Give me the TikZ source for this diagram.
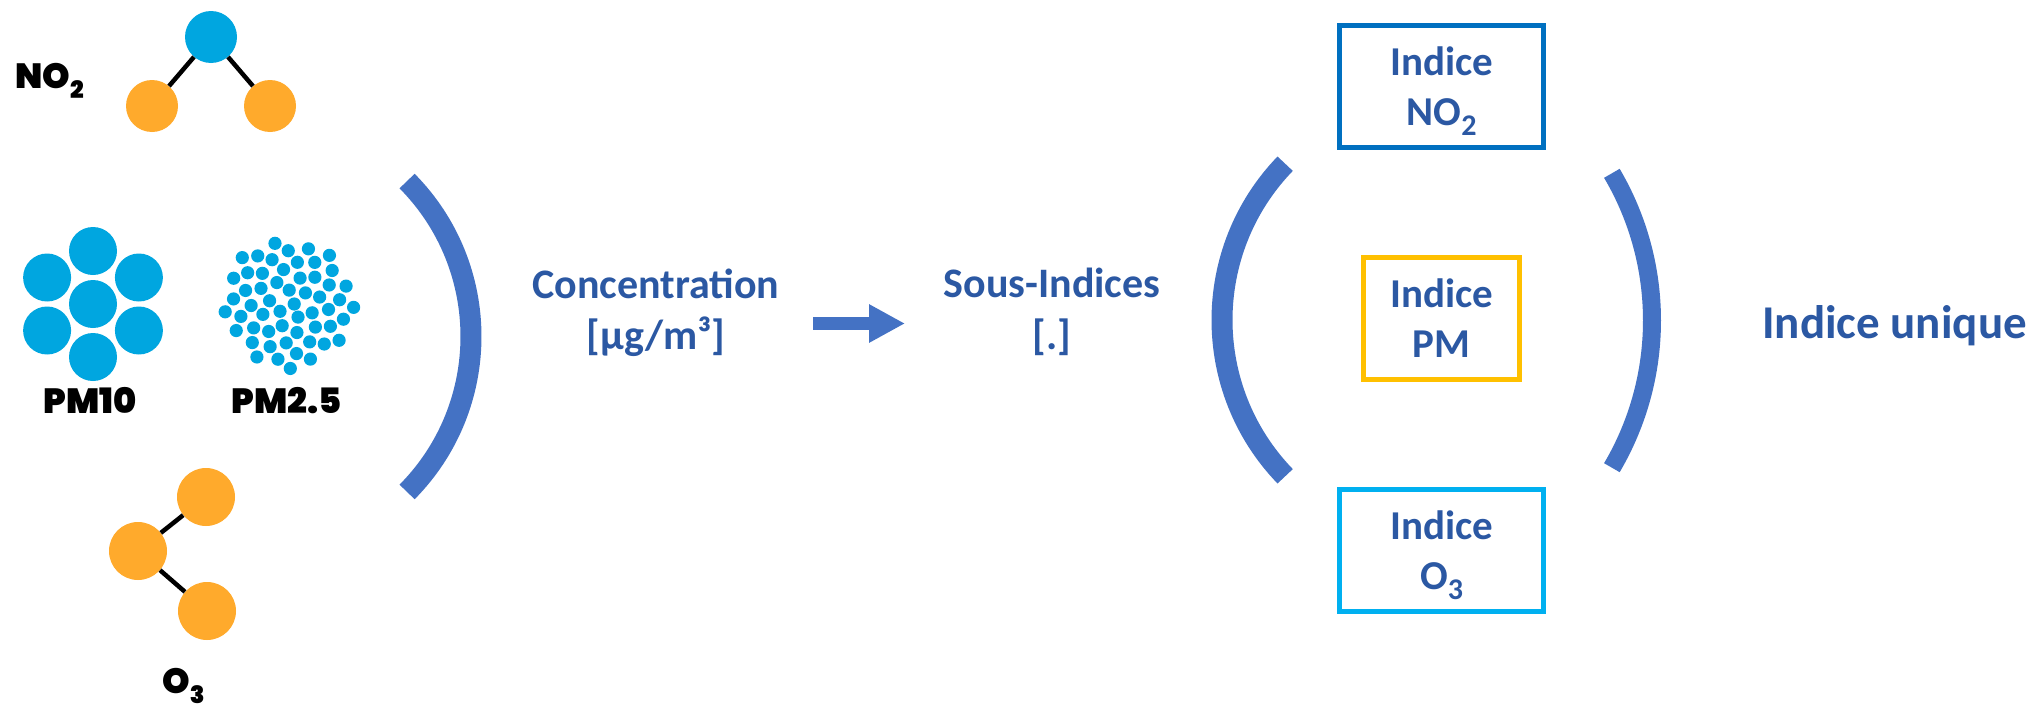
\documentclass[tikz,border=0pt]{standalone}
\usepackage{fontspec}
\newfontfamily\carlito{Carlito}
\newfontfamily\pop{Poppins Black}
\usetikzlibrary{arrows.meta}
\definecolor{txtblue}{HTML}{2B58A3}
\definecolor{parblue}{HTML}{4472C4}
\definecolor{molblue}{HTML}{00A6E0}
\definecolor{molorange}{HTML}{FFAA2C}
\definecolor{boxno}{HTML}{0070C0}
\definecolor{boxpm}{HTML}{FFC000}
\definecolor{boxo}{HTML}{00B0F0}
\newcommand{\boxsub}[1]{\raisebox{-0.24em}[0pt][0pt]{\fontsize{30}{30}\selectfont #1}}
\newcommand{\molsub}[1]{\raisebox{-0.3em}{\fontsize{24}{24}\selectfont #1}}
\tikzset{
  txt/.style={text=txtblue, font=\carlito\bfseries\fontsize{42}{51}\selectfont, inner sep=0pt, anchor=base},
  idxbox/.style={draw, line width=5pt, minimum width=204pt, minimum height=122pt, inner sep=0pt,
    text=txtblue, font=\carlito\bfseries\fontsize{41}{50}\selectfont, align=center},
  paren/.style={draw=parblue, line width=21pt},
  atom/.style={circle, inner sep=0pt, minimum size=52pt},
  bond/.style={draw=black, line width=4.5pt},
  lab/.style={font=\pop\fontsize{35}{35}\selectfont, inner sep=0pt, text=black},
  blockarrow/.style={draw=parblue, line width=13pt, -{Triangle[length=36pt,width=36pt]}}
}
\begin{document}
\begin{tikzpicture}[x=1pt,y=-1pt]
\useasboundingbox (0,0) rectangle (2036,704);
\fill[white] (0,0) rectangle (2036,704);

% NO2 molecule
\node[atom, fill=molblue] (n) at (211,37) {};
\node[atom, fill=molorange] (o1) at (152,106) {};
\node[atom, fill=molorange] (o2) at (270,106) {};
\draw[bond] (n) -- (o1);
\draw[bond] (n) -- (o2);
\node[lab, anchor=base west] (lno2) at (15,88) {NO\molsub{2}};

% PM10
\foreach \a in {90,30,-30,-90,210,150} {
  \fill[molblue] (93,304) ++(\a:53) circle[radius=24];
}
\fill[molblue] (93,304) circle[radius=24];
\node[lab, anchor=base] (lpm10) at (90,413) {PM10};

% PM2.5
\foreach \k in {0,...,55} {
  \pgfmathsetmacro\rad{66*sqrt((\k+0.5)/56)}
  \pgfmathsetmacro\ang{\k*137.508}
  \fill[molblue] (288,304) ++(\ang:\rad) circle[radius=6.6];
}
\node[lab, anchor=base] (lpm25) at (287,413) {PM2.5};

% O3 molecule
\node[atom, minimum size=58pt, fill=molorange] (oa) at (206,497) {};
\node[atom, minimum size=58pt, fill=molorange] (ob) at (138,551) {};
\node[atom, minimum size=58pt, fill=molorange] (oc) at (207,611) {};
\draw[bond] (ob) -- (oa);
\draw[bond] (ob) -- (oc);
\node[lab, anchor=base west] (lo3) at (162,693) {O\molsub{3}};

% small closing paren
\draw[paren] (250,336.5) ++(-44.7:221) arc[start angle=-44.7, end angle=44.7, radius=221];

% texts
\node[txt] (conc) at (656,298) {Concentration};
\node[txt] (concu) at (656,349) {[µg/m³]};
\coordinate (arrS) at (813,323.5);
\coordinate (arrE) at (905,323.5);
\draw[blockarrow] (arrS) -- (arrE);
\node[txt] (sous) at (1052,297) {Sous-Indices};
\node[txt] (sousu) at (1052,349) {[.]};

% big parens
\draw[paren] (1447,320) ++(136:225) arc[start angle=136, end angle=224, radius=225];
\draw[paren, line width=18pt] (1362,320.5) ++(-30.5:290) arc[start angle=-30.5, end angle=30.5, radius=290];

% boxes
\node[idxbox, draw=boxno] (bno2) at (1441.5,86.5) {Indice\\NO\boxsub{2}};
\node[idxbox, draw=boxpm, minimum width=156pt] (bpm) at (1441.5,318.5) {Indice\\PM};
\node[idxbox, draw=boxo] (bo3) at (1441.5,550) {Indice\\O\boxsub{3}};

\node[txt, font=\carlito\bfseries\fontsize{47}{56}\selectfont] (uniq) at (1894.5,338) {Indice unique};
\end{tikzpicture}
\end{document}
